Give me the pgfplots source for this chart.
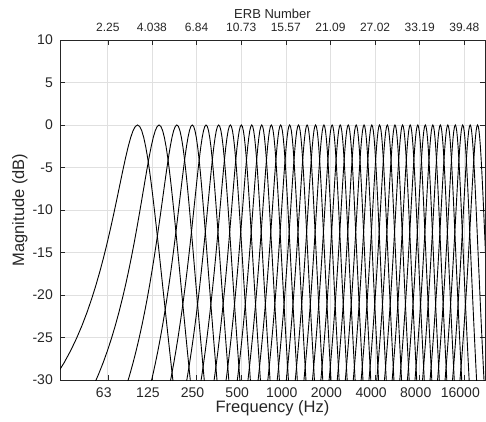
\documentclass[border=0pt]{standalone}
\usepackage{fontspec}
\setmainfont{Liberation Sans}
\usepackage{pgfplots}
\usepackage{pgfplotstable}
\pgfplotsset{compat=1.18}
\definecolor{axgray}{RGB}{38,38,38}
\definecolor{gridgray}{RGB}{224,224,224}
\tikzset{gt/.style={black, solid, line width=0.9pt, mark=none}}
% normalised gammatone magnitude shape: u = (f - fc)/b, db = magnitude in dB
\pgfplotstableread{
u db
-2.2 -30.657
-2.1 -29.328
-2.0 -27.959
-1.9 -26.548
-1.8 -25.095
-1.7 -23.598
-1.6 -22.058
-1.5 -20.475
-1.4 -18.852
-1.3 -17.190
-1.2 -15.496
-1.1 -13.776
-1.0 -12.041
-0.9 -10.307
-0.8 -8.594
-0.7 -6.927
-0.6 -5.342
-0.5 -3.876
-0.4 -2.578
-0.3 -1.497
-0.2 -0.681
-0.1 -0.173
0.0 0.000
0.1 -0.173
0.2 -0.681
0.3 -1.497
0.4 -2.578
0.5 -3.876
0.6 -5.342
0.7 -6.927
0.8 -8.594
0.9 -10.307
1.0 -12.041
1.1 -13.776
1.2 -15.496
1.3 -17.190
1.4 -18.852
1.5 -20.475
1.6 -22.058
1.7 -23.598
1.8 -25.095
1.9 -26.548
2.0 -27.959
2.1 -29.328
2.2 -30.657
}\shape
\begin{document}
\begin{tikzpicture}
\useasboundingbox (0,0) rectangle (486pt,421pt);
\begin{axis}[
  at={(60pt,41pt)}, anchor=south west,
  scale only axis, width=425pt, height=340pt,
  xmode=log, xmin=30, xmax=22050, ymin=-30, ymax=10,
  xtick={63,125,250,500,1000,2000,4000,8000,16000},
  xticklabels={63,125,250,500,1000,2000,4000,8000,16000},
  xminorticks=false,
  ytick={-30,-25,-20,-15,-10,-5,0,5,10},
  yticklabels={-30,-25,-20,-15,-10,-5,0,5,10},
  tick align=inside, major tick length=5pt,
  tick style={axgray, line width=0.5pt},
  axis line style={axgray, line width=0.6pt},
  grid=major, major grid style={gridgray, line width=0.6pt},
  xticklabel style={font=\fontsize{14}{16}\selectfont, text=axgray, anchor=base, yshift=-17.5pt, xshift=-4pt},
  yticklabel style={font=\fontsize{14}{16}\selectfont, text=axgray, anchor=east, inner sep=0pt, xshift=-7pt},
  xlabel={Frequency (Hz)},
  xlabel style={font=\fontsize{16.5}{18}\selectfont, text=axgray, at={(axis description cs:0.5,-0.097)}, anchor=base},
  ylabel={Magnitude (dB)},
  ylabel style={font=\fontsize{16.5}{18}\selectfont, text=axgray, at={(axis description cs:-0.068,0.5)}, anchor=south},
]
\addplot[gt] table[x expr=\thisrow{u}*34.00+100.0, y=db] {\shape};
\addplot[gt] table[x expr=\thisrow{u}*40.53+139.7, y=db] {\shape};
\addplot[gt] table[x expr=\thisrow{u}*45.43+184.2, y=db] {\shape};
\addplot[gt] table[x expr=\thisrow{u}*50.91+234.0, y=db] {\shape};
\addplot[gt] table[x expr=\thisrow{u}*57.06+289.9, y=db] {\shape};
\addplot[gt] table[x expr=\thisrow{u}*63.94+352.5, y=db] {\shape};
\addplot[gt] table[x expr=\thisrow{u}*71.65+422.6, y=db] {\shape};
\addplot[gt] table[x expr=\thisrow{u}*80.31+501.3, y=db] {\shape};
\addplot[gt] table[x expr=\thisrow{u}*90.00+589.4, y=db] {\shape};
\addplot[gt] table[x expr=\thisrow{u}*100.86+688.1, y=db] {\shape};
\addplot[gt] table[x expr=\thisrow{u}*113.03+798.8, y=db] {\shape};
\addplot[gt] table[x expr=\thisrow{u}*126.67+922.8, y=db] {\shape};
\addplot[gt] table[x expr=\thisrow{u}*141.96+1061.8, y=db] {\shape};
\addplot[gt] table[x expr=\thisrow{u}*159.10+1217.6, y=db] {\shape};
\addplot[gt] table[x expr=\thisrow{u}*178.30+1392.2, y=db] {\shape};
\addplot[gt] table[x expr=\thisrow{u}*199.82+1587.8, y=db] {\shape};
\addplot[gt] table[x expr=\thisrow{u}*223.94+1807.1, y=db] {\shape};
\addplot[gt] table[x expr=\thisrow{u}*250.97+2052.8, y=db] {\shape};
\addplot[gt] table[x expr=\thisrow{u}*281.25+2328.1, y=db] {\shape};
\addplot[gt] table[x expr=\thisrow{u}*315.19+2636.7, y=db] {\shape};
\addplot[gt] table[x expr=\thisrow{u}*353.24+2982.6, y=db] {\shape};
\addplot[gt] table[x expr=\thisrow{u}*395.88+3370.2, y=db] {\shape};
\addplot[gt] table[x expr=\thisrow{u}*443.65+3804.5, y=db] {\shape};
\addplot[gt] table[x expr=\thisrow{u}*497.19+4291.3, y=db] {\shape};
\addplot[gt] table[x expr=\thisrow{u}*557.21+4836.9, y=db] {\shape};
\addplot[gt] table[x expr=\thisrow{u}*624.46+5448.3, y=db] {\shape};
\addplot[gt] table[x expr=\thisrow{u}*699.82+6133.4, y=db] {\shape};
\addplot[gt] table[x expr=\thisrow{u}*784.29+6901.3, y=db] {\shape};
\addplot[gt] table[x expr=\thisrow{u}*878.95+7761.9, y=db] {\shape};
\addplot[gt] table[x expr=\thisrow{u}*985.04+8726.3, y=db] {\shape};
\addplot[gt] table[x expr=\thisrow{u}*1103.92+9807.1, y=db] {\shape};
\addplot[gt] table[x expr=\thisrow{u}*1237.15+11018.3, y=db] {\shape};
\addplot[gt] table[x expr=\thisrow{u}*1386.48+12375.8, y=db] {\shape};
\addplot[gt] table[x expr=\thisrow{u}*1553.80+13897.0, y=db] {\shape};
\addplot[gt] table[x expr=\thisrow{u}*1741.40+15601.9, y=db] {\shape};
\addplot[gt] table[x expr=\thisrow{u}*1951.50+17512.6, y=db] {\shape};
\addplot[gt] table[x expr=\thisrow{u}*2187.10+19653.8, y=db] {\shape};
\end{axis}
\begin{axis}[
  at={(60pt,41pt)}, anchor=south west,
  scale only axis, width=425pt, height=340pt,
  xmode=log, xmin=30, xmax=22050, ymin=-30, ymax=10,
  axis x line*=top, hide y axis,
  axis line style={draw=none}, major tick length=0pt,
  xtick={63,125,250,500,1000,2000,4000,8000,16000},
  xticklabels={2.25,4.038,6.84,10.73,15.57,21.09,27.02,33.19,39.48},
  xminorticks=false,
  xticklabel style={font=\fontsize{12}{14}\selectfont, text=axgray, anchor=base, yshift=8.4pt},
  xlabel={ERB Number},
  xlabel style={font=\fontsize{13}{15}\selectfont, text=axgray, at={(axis description cs:0.5,1.064)}, anchor=base},
]
\end{axis}
\end{tikzpicture}
\end{document}
